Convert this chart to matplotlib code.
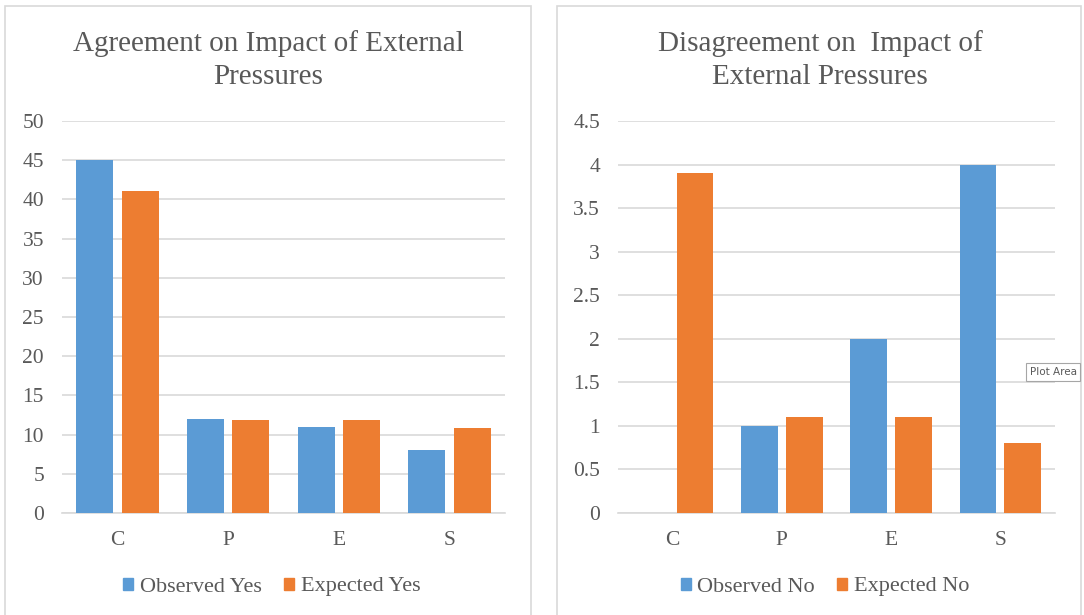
import matplotlib.pyplot as plt
from matplotlib.patches import Rectangle, Patch

categories = ["C", "P", "E", "S"]
observed_yes = [45, 12, 11, 8]
expected_yes = [41.1, 11.9, 11.9, 10.8]
observed_no = [0, 1, 2, 4]
expected_no = [3.9, 1.1, 1.1, 0.8]

blue = "#5B9BD5"
orange = "#ED7D31"
text_gray = "#595959"
grid_gray = "#D9D9D9"

plt.rcParams["font.family"] = ["Liberation Serif", "DejaVu Serif"]

fig = plt.figure(figsize=(10.84, 6.15), dpi=100)

# chart frames
for x0, w in [(5, 526), (557, 524)]:
    fig.add_artist(Rectangle((x0 / 1084, -0.05), w / 1084, 1.05 - 6 / 615,
                             transform=fig.transFigure, fill=False,
                             edgecolor=grid_gray, linewidth=1.2))


def draw_chart(rect, obs, exp, ymax, step, title, labels, title_x, legend_x):
    ax = fig.add_axes(rect)
    x = range(len(categories))
    ax.bar([i - 0.205 for i in x], obs, width=0.335, color=blue, zorder=3)
    ax.bar([i + 0.205 for i in x], exp, width=0.335, color=orange, zorder=3)
    ax.set_xlim(-0.5, len(categories) - 0.5)
    ax.set_ylim(0, ymax)
    ticks = [step * k for k in range(int(round(ymax / step)) + 1)]
    ax.set_yticks(ticks)
    ax.set_yticklabels([f"{t:g}" for t in ticks])
    ax.set_xticks(list(x))
    ax.set_xticklabels(categories)
    ax.yaxis.grid(True, color=grid_gray, linewidth=1.2, zorder=0)
    for s in ["top", "right", "left"]:
        ax.spines[s].set_visible(False)
    ax.spines["bottom"].set_color(grid_gray)
    ax.spines["bottom"].set_linewidth(1.2)
    ax.tick_params(axis="both", length=0, labelsize=15.5, colors=text_gray)
    ax.tick_params(axis="y", pad=13)
    ax.tick_params(axis="x", pad=13)
    fig.text(title_x, 1 - 60 / 615, title, ha="center", va="center",
             fontsize=21, color=text_gray, linespacing=1.33)
    handles = [Patch(color=blue), Patch(color=orange)]
    fig.legend(handles, labels, loc="center", ncol=2, frameon=False,
               bbox_to_anchor=(legend_x, 1 - 587 / 615), fontsize=16,
               labelcolor=text_gray, handlelength=0.45, handleheight=0.45,
               handletextpad=0.3, columnspacing=1.0)
    return ax


draw_chart([62 / 1084, 102 / 615, 443 / 1084, 392 / 615], observed_yes, expected_yes,
           50, 5, "Agreement on Impact of External\nPressures",
           ["Observed Yes", "Expected Yes"], 268 / 1084, 272 / 1084)

draw_chart([618 / 1084, 102 / 615, 437 / 1084, 392 / 615], observed_no, expected_no,
           4.5, 0.5, "Disagreement on  Impact of\nExternal Pressures",
           ["Observed No", "Expected No"], 820 / 1084, 825 / 1084)

# hover label over the plot area
fig.text(1053 / 1084, 1 - 372 / 615, "Plot Area", ha="center", va="center",
         fontsize=7.5, color=text_gray, family="DejaVu Sans",
         bbox=dict(boxstyle="square,pad=0.35", facecolor="white",
                   edgecolor="#A6A6A6", linewidth=0.8))

fig.savefig("out.png", dpi=100, facecolor="white")
